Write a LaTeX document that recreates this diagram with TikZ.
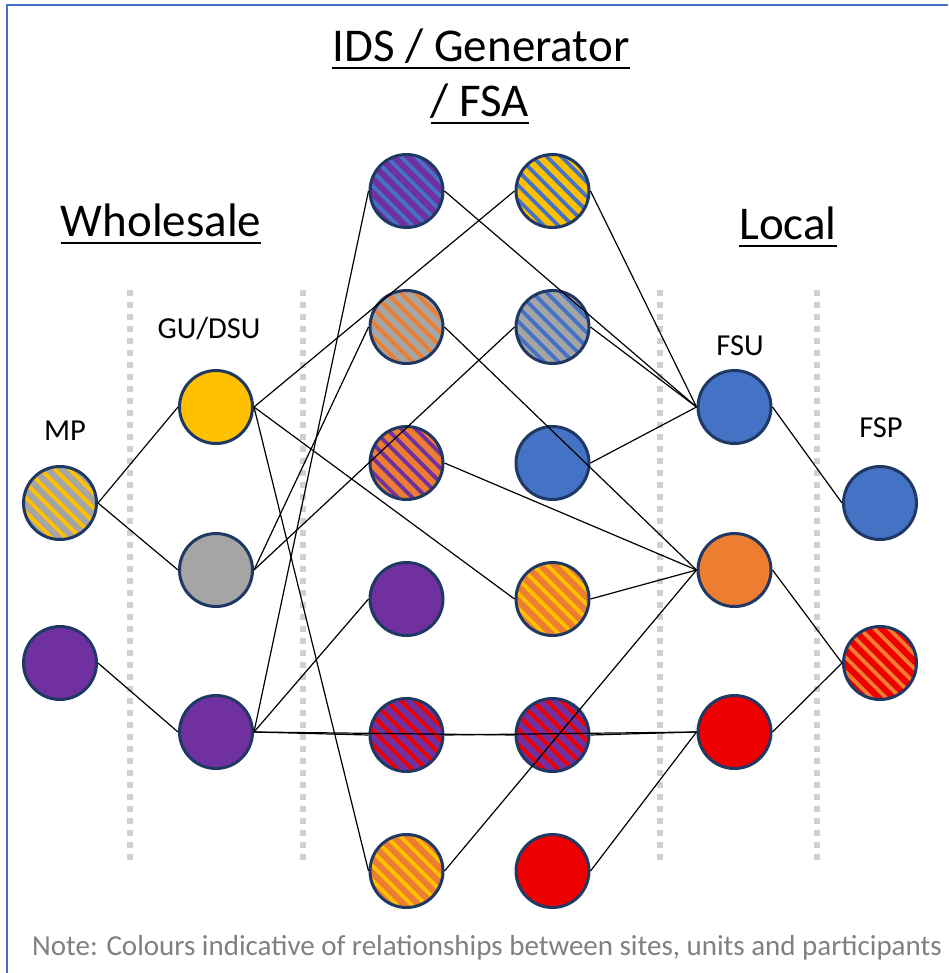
\documentclass[tikz,border=0pt]{standalone}
\usepackage{fontspec}
\setmainfont{Carlito}
\definecolor{cblue}{HTML}{4472C4}
\definecolor{corange}{HTML}{ED7D31}
\definecolor{cgray}{HTML}{A5A5A5}
\definecolor{cyellow}{HTML}{FFC000}
\definecolor{cpurple}{HTML}{7030A0}
\definecolor{cred}{HTML}{EE0000}
\definecolor{cedge}{HTML}{1F3864}
\definecolor{cdots}{HTML}{D0D0D0}
\definecolor{cnote}{HTML}{808080}
\begin{document}
\begin{tikzpicture}[x=1pt,y=-1pt]
\tikzset{
  unit/.style={circle, draw=cedge, line width=3pt, minimum size=73pt, inner sep=0pt, fill=#1},
  striped/.style 2 args={unit=#1, path picture={
    \foreach \k in {-8,...,8}{
      \draw[#2, line width=3.8pt]
        ([shift={(\k*7.2,-\k*7.2)}]path picture bounding box.center) ++(-60,-60) -- ++(120,120);
    }}},
  link/.style={line width=1.2pt, black},
  divider/.style={cdots, line width=6pt, dash pattern=on 6pt off 6pt},
  heading/.style={font=\fontsize{47}{55}\selectfont, inner sep=0pt, anchor=base},
  tier/.style={font=\fontsize{30.5}{36}\selectfont, inner sep=0pt, anchor=base},
  rule/.style={line width=2.5pt, black},
}
\useasboundingbox (0,0) rectangle (948,973);

% frame
\draw[cblue, line width=2.5pt] (7,973) -- (7,5) -- (948,5);

% column dividers
\foreach \x in {130,303,660,817}
  \draw[divider] (\x,290) -- (\x,862);

% headings
\node[heading] (hids) at (481,62) {IDS / Generator};
\node[heading] (hfsa) at (480,117) {/ FSA};
\node[heading] (hwho) at (161,237) {Wholesale};
\node[heading] (hloc) at (788,240) {Local};
\foreach \h in {hids,hfsa,hwho,hloc}
  \draw[rule] ([yshift=-6pt]\h.base west) -- ([yshift=-6pt]\h.base east);

% tier labels
\node[tier] (lmp)  at (65,440) {MP};
\node[tier] (lgu)  at (209,338) {GU/DSU};
\node[tier] (lfsu) at (740,355) {FSU};
\node[tier] (lfsp) at (881,437) {FSP};

% market participants
\node[striped={cgray}{cyellow}] (mp1) at (60,503) {};
\node[unit=cpurple] (mp2) at (60,663) {};

% generating / demand side units
\node[unit=cyellow] (gu1) at (216,407) {};
\node[unit=cgray]   (gu2) at (216,570) {};
\node[unit=cpurple] (gu3) at (216,732) {};

% sites, first column
\node[striped={cpurple}{cblue}]   (a1) at (406.5,191) {};
\node[striped={cgray}{corange}]   (a2) at (406.5,327) {};
\node[striped={corange}{cpurple}] (a3) at (406.5,463) {};
\node[unit=cpurple]               (a4) at (406.5,599) {};
\node[striped={cpurple}{cred}]    (a5) at (406.5,735) {};
\node[striped={corange}{cyellow}] (a6) at (406.5,871) {};

% sites, second column
\node[striped={cyellow}{cblue}]   (b1) at (552.5,191) {};
\node[striped={cgray}{cblue}]     (b2) at (552.5,327) {};
\node[unit=cblue]                 (b3) at (552.5,463) {};
\node[striped={corange}{cyellow}] (b4) at (552.5,599) {};
\node[striped={cpurple}{cred}]    (b5) at (552.5,735) {};
\node[unit=cred]                  (b6) at (552.5,871) {};

% flexible service units
\node[unit=cblue]   (fsu1) at (734.5,407) {};
\node[unit=corange] (fsu2) at (734.5,570) {};
\node[unit=cred]    (fsu3) at (734.5,732) {};

% flexible service providers
\node[unit=cblue]              (fsp1) at (880,503) {};
\node[striped={cred}{corange}] (fsp2) at (880,663) {};

% relationships
\draw[link] (mp1.east) -- (gu1.west);
\draw[link] (mp1.east) -- (gu2.west);
\draw[link] (mp2.east) -- (gu3.west);

\draw[link] (gu1.east) -- (b1.west);
\draw[link] (gu1.east) -- (b4.west);
\draw[link] (gu1.east) -- (a6.west);
\draw[link] (gu2.east) -- (a2.west);
\draw[link] (gu2.east) -- (b2.west);
\draw[link] (gu3.east) -- (a1.west);
\draw[link] (gu3.east) -- (a4.west);
\draw[link] (gu3.east) -- (a5.west);
\draw[link] (gu3.east) -- (b5.west);

\draw[link] (a1.east) -- (fsu1.west);
\draw[link] (b1.east) -- (fsu1.west);
\draw[link] (b2.east) -- (fsu1.west);
\draw[link] (b3.east) -- (fsu1.west);
\draw[link] (a2.east) -- (fsu2.west);
\draw[link] (a3.east) -- (fsu2.west);
\draw[link] (b4.east) -- (fsu2.west);
\draw[link] (a6.east) -- (fsu2.west);
\draw[link] (a5.east) -- (fsu3.west);
\draw[link] (b5.east) -- (fsu3.west);
\draw[link] (b6.east) -- (fsu3.west);

\draw[link] (fsu1.east) -- (fsp1.west);
\draw[link] (fsu2.east) -- (fsp2.west);
\draw[link] (fsu3.east) -- (fsp2.west);

% footnote
\node[font=\fontsize{29}{34}\selectfont, text=cnote, inner sep=0pt, anchor=base] (note) at (487,955)
  {Note: Colours indicative of relationships between sites, units and participants};
\end{tikzpicture}
\end{document}
